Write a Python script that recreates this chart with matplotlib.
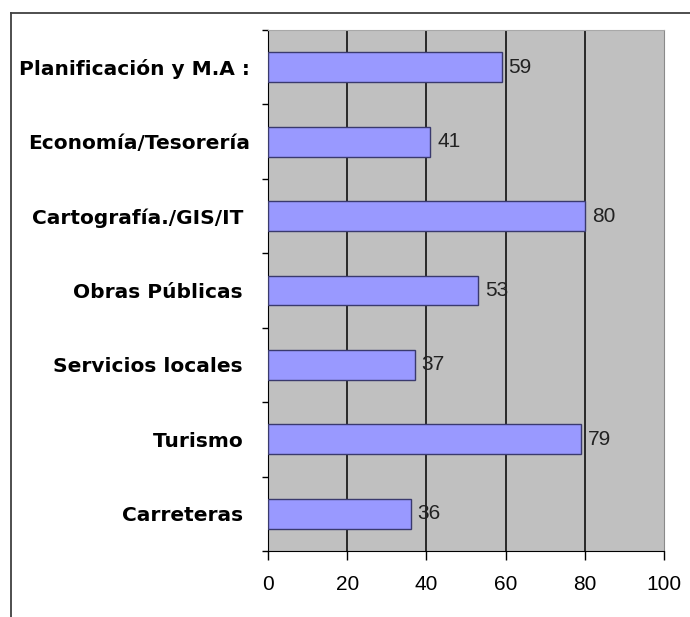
import matplotlib
matplotlib.use('Agg')
import matplotlib.pyplot as plt
from matplotlib.lines import Line2D

# categories top to bottom
categorias = ['Planificación y M.A :', 'Economía/Tesorería', 'Cartografía./GIS/IT ',
              'Obras Públicas ', 'Servicios locales ', 'Turismo ', 'Carreteras ']
valores = [59, 41, 80, 53, 37, 79, 36]
xticks = [0, 20, 40, 60, 80, 100]

fig = plt.figure(figsize=(6.9, 6.17), dpi=100)
ax = fig.add_axes([268/690, 1-551/617, (664-268)/690, (551-30)/617])
ax.set_facecolor('#c0c0c0')

pos = list(range(len(categorias)))
ax.barh(pos, valores, height=0.4, color='#9999ff', edgecolor='#3a3a6e', linewidth=1.0, zorder=3)

for p, v in zip(pos, valores):
    ax.annotate(str(v), (v, p), xytext=(5, 0), textcoords='offset points',
                ha='left', va='center', fontsize=15, family='Liberation Sans',
                color='#222222', zorder=4)

ax.set_xlim(0, 100)
ax.set_ylim(len(categorias) - 0.5, -0.5)
ax.set_xticks(xticks)
ax.set_xticklabels([str(t) for t in xticks], family='Liberation Sans', fontsize=15)
ax.tick_params(axis='x', direction='out', length=6.5, width=1, pad=11, color='black')
ax.xaxis.grid(True, color='black', linewidth=1.1, zorder=1)
ax.set_axisbelow(True)
# no grid line over the gray right border
ax.get_xgridlines()[-1].set_visible(False)

# y: ticks at category boundaries, labels in between
ax.set_yticks([p - 0.5 for p in pos] + [len(categorias) - 0.5])
ax.set_yticklabels([])
ax.set_yticks(pos, minor=True)
ax.set_yticklabels(categorias, minor=True, fontsize=14.5, fontweight='bold', family='DejaVu Sans')
ax.tick_params(axis='y', which='major', direction='out', length=4.5, width=1, color='black')
ax.tick_params(axis='y', which='minor', length=0, pad=13)

ax.spines['left'].set_color('black')
ax.spines['bottom'].set_color('black')
ax.spines['right'].set_color('#8a8a8a')
ax.spines['top'].set_color('#a8a8a8')

# outer frame of the original picture
fig.add_artist(Line2D([11/690, 11/690], [0, 1-13/617], color='#404040', linewidth=1.3))
fig.add_artist(Line2D([11/690, 1], [1-13/617, 1-13/617], color='#404040', linewidth=1.3))

fig.savefig('out.png', dpi=100)
